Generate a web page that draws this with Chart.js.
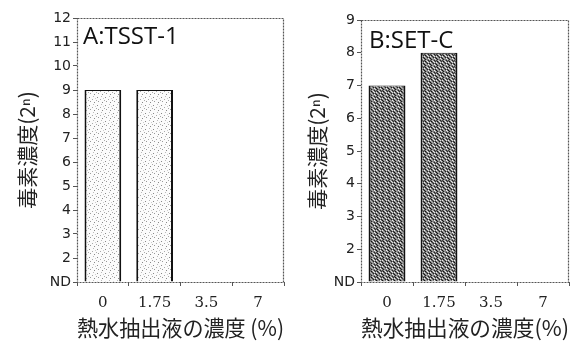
<!DOCTYPE html>
<html><head><meta charset="utf-8">
<script src="https://cdn.jsdelivr.net/npm/chart.js@4/dist/chart.umd.min.js"></script>
<style>
html,body{margin:0;padding:0;background:#fff;}
#wrap{position:relative;width:575px;height:341px;}
.p{position:absolute;top:0;height:341px;}
</style></head>
<body><div id="wrap">
<div class="p" style="left:0;width:290px"><canvas id="a"></canvas></div>
<div class="p" style="left:290px;width:285px"><canvas id="b"></canvas></div>
</div>
<script>
const categories = ['0','1.75','3.5','7'];
const valuesA = [9, 9, null, null];
const valuesB = [7, 8, null, null];
const labelA = 'A:TSST-1';
const labelB = 'B:SET-C';
const yMaxA = 12;
const yMaxB = 9;
const ndValue = 1;
const yTitle = '毒素濃度(2ⁿ)';
const xTitleA = '熱水抽出液の濃度 (%)';
const xTitleB = '熱水抽出液の濃度(%)';

function makePattern(bg, dots, size){
  const c=document.createElement('canvas'); c.width=size; c.height=size;
  const g=c.getContext('2d'); g.fillStyle=bg; g.fillRect(0,0,size,size);
  dots.forEach(d=>{g.fillStyle=d[2]; g.fillRect(d[0],d[1],1,1);});
  return g.createPattern(c,'repeat');
}
const patA = makePattern('#fbfbfb',[[1,1,'#888'],[4,3,'#aaa'],[2,5,'#999'],[6,6,'#888'],[5,0,'#bbb'],[0,4,'#aaa'],[7,2,'#ccc']],8);
const patB = makePattern('#7d7d7d',[[0,0,'#222'],[1,1,'#333'],[2,2,'#eee'],[3,1,'#111'],[4,0,'#ccc'],[0,2,'#ddd'],[2,0,'#444'],[3,3,'#bbb'],[1,3,'#222'],[4,2,'#333'],[0,4,'#eee'],[2,4,'#111'],[4,4,'#aaa'],[1,5,'#ddd'],[3,5,'#222'],[5,1,'#eee'],[5,3,'#222']],6);

const framePlugin = {
  id:'frame',
  afterDraw(chart, args, opts){
    const {ctx, chartArea:a} = chart;
    ctx.save();
    ctx.strokeStyle='#555'; ctx.lineWidth=1.2; ctx.setLineDash([2,1]);
    ctx.strokeRect(a.left+0.5, a.top+0.5, a.right-a.left-1, a.bottom-a.top);
    ctx.setLineDash([]);
    ctx.fillStyle='#111';
    ctx.font='24px "Open Sans", "DejaVu Sans", sans-serif';
    ctx.textBaseline='middle';
    ctx.fillText(opts.text, a.left+opts.dx, a.top+opts.dy);
    ctx.restore();
  }
};

function makeChart(id, values, yMax, label, pat, xTitle, layout){
  new Chart(document.getElementById(id), {
    type:'bar',
    data:{labels:categories, datasets:[{data:values, base:ndValue, backgroundColor:pat,
      borderColor:'#111', borderWidth:{left:2,right:2,top:1,bottom:0}, borderSkipped:false,
      barPercentage:0.71, categoryPercentage:1}]},
    options:{
      responsive:true, maintainAspectRatio:false, animation:false,
      layout:{padding:{top:layout.top,right:layout.right,left:0,bottom:0}},
      plugins:{legend:{display:false}, tooltip:{enabled:false}, frame:{text:label, dx:layout.dx, dy:layout.dy}},
      scales:{
        x:{grid:{drawOnChartArea:false, drawTicks:true, tickLength:4, color:'#555'}, border:{display:false},
           ticks:{color:'#222', font:{family:'"DejaVu Serif", serif', size:15}, padding:8},
           title:{display:true, text:xTitle, color:'#222', font:{family:'"Noto Sans CJK JP", sans-serif', size:22}, padding:{top:0,bottom:0}},
           afterFit(s){s.height=layout.xh;}},
        y:{min:ndValue, max:yMax, grid:{drawOnChartArea:false, drawTicks:true, tickLength:4, color:'#555'}, border:{display:false},
           ticks:{stepSize:1, color:'#222', font:{family:'"DejaVu Sans", sans-serif', size:14}, padding:2,
             callback:v=> v===ndValue ? 'ND' : v},
           title:{display:true, text:yTitle, color:'#222', font:{family:'"Noto Sans CJK JP", sans-serif', size:21}, padding:{top:14,bottom:0}},
           afterFit(s){s.width=layout.yw;}}
      }
    },
    plugins:[framePlugin]
  });
}
makeChart('a', valuesA, yMaxA, labelA, patA, xTitleA, {top:18,right:6,xh:59,yw:77,dx:6,dy:19});
makeChart('b', valuesB, yMaxB, labelB, patB, xTitleB, {top:20,right:6,xh:59,yw:71,dx:8,dy:21});
</script></body></html>
